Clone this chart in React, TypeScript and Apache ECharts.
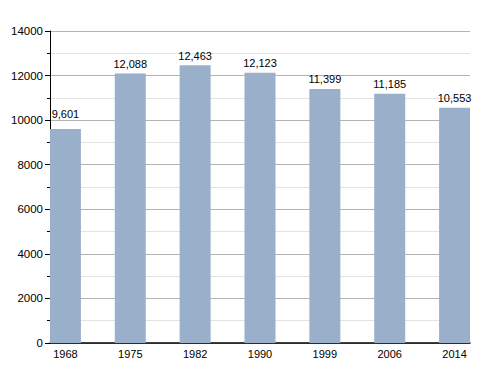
import React, { useEffect, useRef } from "react";
import * as echarts from "echarts";

const years = ["1968", "1975", "1982", "1990", "1999", "2006", "2014"];
const population = [9601, 12088, 12463, 12123, 11399, 11185, 10553];

const FONT = "'Liberation Sans', Arial, sans-serif";

export default function App() {
  const ref = useRef<HTMLDivElement>(null);
  useEffect(() => {
    const chart = echarts.init(ref.current!, null, { renderer: "svg" });
    chart.setOption({
      animation: false,
      grid: [
        { left: 33, right: 13, top: 31, bottom: 30 },
        { left: 50, right: 30, top: 31, bottom: 30 },
      ],
      xAxis: [
        {
          type: "category",
          gridIndex: 0,
          data: years,
          axisLine: { show: false },
          axisTick: { show: false },
          axisLabel: { color: "#000", fontFamily: FONT, fontSize: 11, margin: 5 },
        },
        {
          type: "value",
          gridIndex: 1,
          min: 0,
          max: 1,
          axisLine: { show: true, lineStyle: { color: "#000", width: 1.5 } },
          axisTick: { show: false },
          axisLabel: { show: false },
          splitLine: { show: false },
        },
      ],
      yAxis: [
        {
          type: "value",
          gridIndex: 0,
          min: 0,
          max: 14000,
          show: false,
          splitLine: { show: false },
        },
        {
          type: "value",
          gridIndex: 1,
          min: 0,
          max: 14000,
          interval: 2000,
          axisLine: { show: true, lineStyle: { color: "#000", width: 1 } },
          axisTick: { show: true, length: 5, lineStyle: { color: "#000" } },
          minorTick: { show: true, splitNumber: 2, length: 3, lineStyle: { color: "#000" } },
          axisLabel: {
            color: "#000",
            fontFamily: FONT,
            fontSize: 11.5,
            margin: 7,
            formatter: (v: number) => String(v),
          },
          splitLine: { show: true, lineStyle: { color: "#b4b4b4", width: 1 } },
          minorSplitLine: { show: true, lineStyle: { color: "#e2e2e2", width: 1 } },
        },
      ],
      series: [
        {
          type: "bar",
          xAxisIndex: 0,
          yAxisIndex: 0,
          data: population.map((v, i) =>
            i === 0 ? { value: v, label: { distance: 10 } } : v
          ),
          barWidth: 31,
          itemStyle: { color: "#9ab0ca" },
          z: 3,
          label: {
            show: true,
            position: "top",
            distance: 4,
            color: "#000",
            fontFamily: FONT,
            fontSize: 11,
            formatter: (p: any) => Number(p.value).toLocaleString("en-US"),
          },
        },
      ],
    });
    return () => chart.dispose();
  }, []);
  return <div ref={ref} style={{ width: 500, height: 373, position: "absolute", left: 0, top: 0, background: "#fff" }} />;
}
